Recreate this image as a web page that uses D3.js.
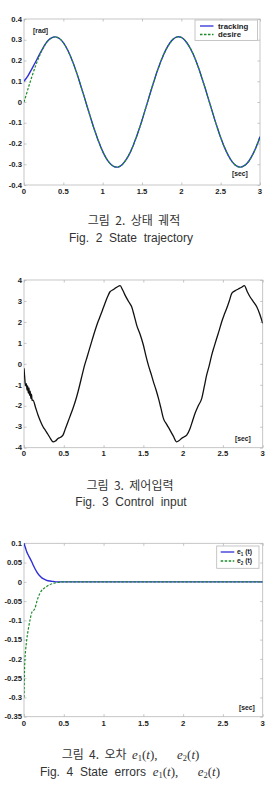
<!DOCTYPE html>
<html><head><meta charset="utf-8">
<script src="https://cdn.jsdelivr.net/npm/d3@7"></script>
<style>
html,body{margin:0;padding:0;background:#fff;}
svg{display:block;}
</style></head>
<body>
<script>
// ---------- DATA ----------
const xTicks = [0, 0.5, 1, 1.5, 2, 2.5, 3];
const xTickLabels = ["0", "0.5", "1", "1.5", "2", "2.5", "3"];

// Fig 2 : state trajectory
const trajTime = [0,0.05,0.1,0.15,0.2,0.25,0.3,0.35,0.4,0.45,0.5,0.55,0.6,0.65,0.7,0.75,0.8,0.85,0.9,0.95,1,1.05,1.1,1.15,1.2,1.25,1.3,1.35,1.4,1.45,1.5,1.55,1.6,1.65,1.7,1.75,1.8,1.85,1.9,1.95,2,2.05,2.1,2.15,2.2,2.25,2.3,2.35,2.4,2.45,2.5,2.55,2.6,2.65,2.7,2.75,2.8,2.85,2.9,2.95,3];
const desire = [0.000,0.062,0.122,0.177,0.225,0.264,0.293,0.309,0.314,0.306,0.286,0.254,0.212,0.162,0.105,0.044,-0.018,-0.080,-0.139,-0.192,-0.238,-0.274,-0.299,-0.312,-0.313,-0.301,-0.277,-0.243,-0.198,-0.146,-0.088,-0.026,0.037,0.098,0.155,0.206,0.249,0.282,0.304,0.314,0.311,0.295,0.268,0.231,0.184,0.129,0.070,0.008,-0.055,-0.115,-0.171,-0.220,-0.260,-0.290,-0.308,-0.314,-0.307,-0.289,-0.258,-0.218,-0.168];
const tracking = [0.100,0.126,0.160,0.195,0.232,0.266,0.294,0.309,0.314,0.306,0.286,0.254,0.212,0.162,0.105,0.044,-0.018,-0.080,-0.139,-0.192,-0.238,-0.274,-0.299,-0.312,-0.313,-0.301,-0.277,-0.243,-0.198,-0.146,-0.088,-0.026,0.037,0.098,0.155,0.206,0.249,0.282,0.304,0.314,0.311,0.295,0.268,0.231,0.184,0.129,0.070,0.008,-0.055,-0.115,-0.171,-0.220,-0.260,-0.290,-0.308,-0.314,-0.307,-0.289,-0.258,-0.218,-0.168];
const trajYTicks = [-0.4,-0.3,-0.2,-0.1,0,0.1,0.2,0.3,0.4];
const trajYLabels = ["-0.4","-0.3","-0.2","-0.1","0","0.1","0.2","0.3","0.4"];
const trajSeriesNames = ["tracking", "desire"];

// Fig 3 : control input
const ctrlTime = [0,0.008,0.015,0.022,0.03,0.038,0.046,0.054,0.062,0.07,0.078,0.086,0.094,0.102,0.113,0.145,0.176,0.208,0.239,0.27,0.302,0.335,0.365,0.395,0.427,0.46,0.49,0.52,0.553,0.585,0.616,0.648,0.679,0.72,0.762,0.795,0.825,0.855,0.888,0.92,0.95,0.985,1.018,1.05,1.081,1.113,1.144,1.175,1.207,1.24,1.27,1.31,1.353,1.385,1.416,1.46,1.5,1.53,1.563,1.595,1.626,1.66,1.69,1.72,1.752,1.795,1.835,1.877,1.919,1.95,1.982,2.015,2.045,2.087,2.12,2.15,2.19,2.234,2.265,2.296,2.33,2.359,2.39,2.422,2.455,2.485,2.515,2.548,2.58,2.611,2.65,2.694,2.73,2.77,2.805,2.84,2.88,2.925,2.96,3.0];
const control = [-0.21,-0.6,-0.95,-1.05,-0.95,-1.25,-1.05,-1.4,-1.15,-1.5,-1.3,-1.65,-1.45,-1.75,-1.73,-2.08,-2.44,-2.75,-3.0,-3.18,-3.37,-3.58,-3.72,-3.68,-3.56,-3.5,-3.4,-3.1,-2.76,-2.44,-2.12,-1.75,-1.33,-0.7,-0.06,0.35,0.74,1.12,1.53,1.9,2.2,2.55,2.89,3.2,3.44,3.52,3.6,3.68,3.73,3.52,3.28,3.0,2.72,2.3,1.85,1.4,0.9,0.42,-0.06,-0.45,-0.85,-1.25,-1.65,-2.1,-2.6,-2.9,-3.16,-3.45,-3.72,-3.66,-3.55,-3.48,-3.4,-3.08,-2.7,-2.36,-2.0,-1.65,-1.1,-0.53,-0.05,0.42,0.82,1.22,1.62,2.01,2.33,2.65,3.0,3.36,3.48,3.57,3.64,3.73,3.45,3.2,2.98,2.72,2.4,1.93];
const ctrlYTicks = [-4,-3,-2,-1,0,1,2,3,4];
const ctrlYLabels = ["-4","-3","-2","-1","0","1","2","3","4"];

// Fig 4 : state errors
const errTime = [0,0.004,0.012,0.02,0.034,0.05,0.075,0.097,0.117,0.138,0.16,0.2,0.22,0.264,0.285,0.327,0.37,0.41,0.5,1,1.5,2,2.5,3];
const e1 = [0.1,0.097,0.092,0.087,0.078,0.071,0.061,0.052,0.043,0.034,0.026,0.015,0.011,0.006,0.004,0.002,0.001,0,0,0,0,0,0,0];
const e2 = [-0.3,-0.25,-0.2,-0.178,-0.151,-0.128,-0.1,-0.08,-0.075,-0.069,-0.052,-0.03,-0.023,-0.015,-0.012,-0.007,-0.004,-0.002,0,0,0,0,0,0];
const errYTicks = [-0.35,-0.3,-0.25,-0.2,-0.15,-0.1,-0.05,0,0.05,0.1];
const errYLabels = ["-0.35","-0.3","-0.25","-0.2","-0.15","-0.1","-0.05","0","0.05","0.1"];

// ---------- DRAW ----------
const W = 279, H = 792;
const svg = d3.select("body").append("svg").attr("width", W).attr("height", H);

const BLUE = "#2f2fd6", GREEN = "#1c8c2a", FRAME = "#b8b8b8";
const tickFont = "'Liberation Sans', Arial, sans-serif";
const TICK_FS = 7.7;

function panel(o) {
  const x = d3.scaleLinear().domain([0, 3]).range([o.left, o.right]);
  const y = d3.scaleLinear().domain(o.yDomain).range([o.bottom, o.top]);
  const g = svg.append("g");

  g.append("rect").attr("x", o.left).attr("y", o.top)
    .attr("width", o.right - o.left).attr("height", o.bottom - o.top)
    .attr("fill", "none").attr("stroke", FRAME).attr("stroke-width", 0.8);

  const tl = 2.5;
  const xAxB = d3.axisBottom(x).tickValues(xTicks).tickSize(-tl).tickFormat("");
  const xAxT = d3.axisTop(x).tickValues(xTicks).tickSize(-tl).tickFormat("");
  const yAxL = d3.axisLeft(y).tickValues(o.yTicks).tickSize(-tl).tickFormat("");
  const yAxR = d3.axisRight(y).tickValues(o.yTicks).tickSize(-tl).tickFormat("");
  [[xAxB, `translate(0,${o.bottom})`], [xAxT, `translate(0,${o.top})`],
   [yAxL, `translate(${o.left},0)`], [yAxR, `translate(${o.right},0)`]].forEach(([ax, tr]) => {
    const a = g.append("g").attr("transform", tr).call(ax);
    a.select(".domain").remove();
    a.selectAll("line").attr("stroke", FRAME).attr("stroke-width", 0.8);
  });

  g.selectAll(null).data(o.yTicks).enter().append("text")
    .attr("x", o.left - 2).attr("y", d => y(d)).attr("dy", "0.35em")
    .attr("text-anchor", "end").attr("font-family", tickFont).attr("font-weight", "bold")
    .attr("font-size", TICK_FS).attr("fill", "#222").text((d, i) => o.yLabels[i]);
  g.selectAll(null).data(xTicks).enter().append("text")
    .attr("x", d => x(d)).attr("y", o.bottom + o.xLabOff).attr("dy", "0.35em")
    .attr("text-anchor", "middle").attr("font-family", tickFont).attr("font-weight", "bold")
    .attr("font-size", TICK_FS).attr("fill", "#222").text((d, i) => xTickLabels[i]);

  const cid = "clip" + Math.round(o.top);
  svg.append("clipPath").attr("id", cid).append("rect")
    .attr("x", o.left).attr("y", o.top - 1).attr("width", o.right - o.left).attr("height", o.bottom - o.top + 2);

  const lg = g.append("g").attr("clip-path", `url(#${cid})`);
  o.series.forEach(s => {
    const line = d3.line().x((d, i) => x(s.t[i])).y(d => y(d)).curve(s.curve || d3.curveLinear);
    lg.append("path").datum(s.v).attr("d", line).attr("fill", "none")
      .attr("stroke", s.color).attr("stroke-width", s.width)
      .attr("stroke-dasharray", s.dash || null).attr("stroke-linejoin", "round");
  });

  g.append("text").attr("x", o.secX).attr("y", o.secY).attr("dy", "0.35em")
    .attr("font-family", tickFont).attr("font-weight", "bold").attr("font-size", 6.8)
    .attr("fill", "#222").text("[sec]");
  return { x, y, g };
}

const p1 = panel({
  left: 24, right: 260, top: 19, bottom: 185, yDomain: [-0.4, 0.4],
  yTicks: trajYTicks, yLabels: trajYLabels, xLabOff: 6,
  secX: 232, secY: 174,
  series: [
    { t: trajTime, v: tracking, color: BLUE, width: 1.4, curve: d3.curveCatmullRom },
    { t: trajTime, v: desire, color: GREEN, width: 1.2, dash: "2.5,1.5", curve: d3.curveCatmullRom }
  ]
});
p1.g.append("text").attr("x", 33).attr("y", 31).attr("dy", "0.35em")
  .attr("font-family", tickFont).attr("font-weight", "bold").attr("font-size", 6.8)
  .attr("fill", "#222").text("[rad]");
{
  const lg = p1.g.append("g");
  lg.append("rect").attr("x", 195).attr("y", 20).attr("width", 62.5).attr("height", 20.5)
    .attr("fill", "#fff").attr("stroke", FRAME).attr("stroke-width", 0.8);
  const items = [{ c: BLUE, d: null, yy: 26 }, { c: GREEN, d: "2.5,1.5", yy: 34.5 }];
  items.forEach((it, i) => {
    lg.append("line").attr("x1", 200).attr("x2", 213.5).attr("y1", it.yy).attr("y2", it.yy)
      .attr("stroke", it.c).attr("stroke-width", 1.3).attr("stroke-dasharray", it.d);
    lg.append("text").attr("x", 218).attr("y", it.yy).attr("dy", "0.35em")
      .attr("font-family", tickFont).attr("font-weight", "bold").attr("font-size", 7.8)
      .attr("fill", "#222").text(trajSeriesNames[i]);
  });
}

panel({
  left: 24, right: 262.7, top: 280, bottom: 447.7, yDomain: [-4, 4],
  yTicks: ctrlYTicks, yLabels: ctrlYLabels, xLabOff: 5.5,
  secX: 235, secY: 439,
  series: [{ t: ctrlTime, v: control, color: "#111", width: 1.3, curve: d3.curveMonotoneX }]
});

const p3 = panel({
  left: 24, right: 262.7, top: 543.3, bottom: 716.7, yDomain: [-0.35, 0.1],
  yTicks: errYTicks, yLabels: errYLabels, xLabOff: 6.6,
  secX: 239, secY: 707.7,
  series: [
    { t: errTime, v: e1, color: BLUE, width: 1.4, curve: d3.curveMonotoneX },
    { t: errTime, v: e2, color: GREEN, width: 1.2, dash: "2.5,1.5", curve: d3.curveMonotoneX }
  ]
});
{
  const lg = p3.g.append("g");
  lg.append("rect").attr("x", 216.7).attr("y", 546).attr("width", 42.3).attr("height", 22.3)
    .attr("fill", "#fff").attr("stroke", FRAME).attr("stroke-width", 0.8);
  const items = [{ c: BLUE, d: null, yy: 552, s: "1" }, { c: GREEN, d: "2.5,1.5", yy: 561, s: "2" }];
  items.forEach(it => {
    lg.append("line").attr("x1", 220.7).attr("x2", 234.3).attr("y1", it.yy).attr("y2", it.yy)
      .attr("stroke", it.c).attr("stroke-width", 1.3).attr("stroke-dasharray", it.d);
    const t = lg.append("text").attr("x", 237).attr("y", it.yy).attr("dy", "0.3em")
      .attr("font-family", tickFont).attr("font-weight", "bold").attr("font-size", 6.8).attr("fill", "#222");
    t.append("tspan").text("e");
    t.append("tspan").attr("font-size", 4.6).attr("dy", 1.5).text(it.s);
    t.append("tspan").attr("dy", -1.5).text(" (t)");
  });
}

// ---------- CAPTIONS ----------
const korFont = "'Noto Sans CJK KR', sans-serif";
const latFont = "'Liberation Sans', Arial, sans-serif";
const capColor = "#333";
function cap(txt, cx, cy, fam) {
  return svg.append("text").attr("x", cx).attr("y", cy).attr("dy", "0.35em")
    .attr("text-anchor", "middle").attr("font-family", fam).attr("font-size", 12)
    .attr("fill", capColor).style("white-space", "pre").text(txt);
}
cap("그림  2.  상태  궤적", 134, 221, korFont);
cap("Fig.  2  State  trajectory", 131, 238, latFont);
cap("그림  3.  제어입력", 130, 486, korFont);
cap("Fig.  3  Control  input", 131, 501.7, latFont);

function mathCap(prefix, cx, cy, fam) {
  const t = svg.append("text").attr("x", cx).attr("y", cy).attr("dy", "0.35em")
    .attr("text-anchor", "middle").attr("font-family", fam).attr("font-size", 12)
    .attr("fill", capColor).style("white-space", "pre");
  t.append("tspan").text(prefix);
  const m = "'Liberation Serif', 'DejaVu Serif', serif";
  const add = (s, o = {}) => {
    const ts = t.append("tspan").attr("font-family", m).attr("font-size", o.fs || 13).text(s);
    if (o.it) ts.attr("font-style", "italic");
    if (o.dy) ts.attr("dy", o.dy);
    return ts;
  };
  add("e", { it: 1 }); add("1", { fs: 8.5, dy: 2.5 }); add("(", { dy: -2.5 }); add("t", { it: 1 }); add("),      ");
  add("e", { it: 1 }); add("2", { fs: 8.5, dy: 2.5 }); add("(", { dy: -2.5 }); add("t", { it: 1 }); add(")");
}
mathCap("그림  4.  오차  ", 130.5, 754.3, korFont);
mathCap("Fig.  4  State  errors  ", 130, 771.7, latFont);
</script>
</body></html>
